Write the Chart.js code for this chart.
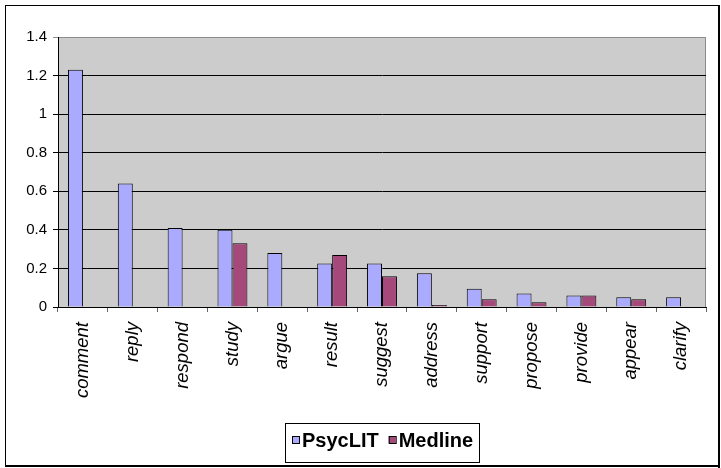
<!DOCTYPE html>
<html>
<head>
<meta charset="utf-8">
<script src="https://cdn.jsdelivr.net/npm/chart.js@4/dist/chart.umd.min.js"></script>
<style>
  html, body { margin: 0; padding: 0; background: #fff; }
  #wrap { width: 721px; height: 468px; position: relative; }
</style>
</head>
<body>
<div id="wrap"><canvas id="c" width="721" height="468"></canvas></div>
<script>
// Reporting verbs and their frequencies in the two databases
const verbs = ['comment', 'reply', 'respond', 'study', 'argue', 'result', 'suggest',
               'address', 'support', 'propose', 'provide', 'appear', 'clarify'];
const psyclit = [1.23, 0.64, 0.41, 0.40, 0.28, 0.225, 0.225, 0.175, 0.095, 0.07, 0.06, 0.05, 0.05];
const medline = [null, null, null, 0.33, null, 0.27, 0.16, 0.01, 0.04, 0.025, 0.06, 0.04, null];
const seriesNames = ['PsycLIT', 'Medline'];
const seriesColors = ['#AAAAFF', '#A4497A'];
const yTop = 1.4;
const yStep = 0.2;

const FONT = 'Arial, "Liberation Sans", sans-serif';

// Frame around the whole picture and the grey plot background
const framePlugin = {
  id: 'frame',
  beforeDraw(chart) {
    const ctx = chart.ctx;
    const a = chart.chartArea;
    ctx.save();
    ctx.fillStyle = '#fff';
    ctx.fillRect(0, 0, chart.width, chart.height);
    ctx.strokeStyle = '#000';
    ctx.lineWidth = 1;
    ctx.strokeRect(5.5, 5.5, 713, 460);
    ctx.fillStyle = '#000';
    ctx.fillRect(718, 5, 2, 463);
    ctx.fillRect(5, 465, 715, 2);
    ctx.fillStyle = '#CCCCCC';
    ctx.fillRect(a.left, a.top, a.right - a.left, a.bottom - a.top);
    ctx.strokeStyle = '#8c8c8c';
    ctx.beginPath();
    ctx.moveTo(a.left, a.top + 0.5);
    ctx.lineTo(a.right - 0.5, a.top + 0.5);
    ctx.lineTo(a.right - 0.5, a.bottom);
    ctx.stroke();
    ctx.restore();
  }
};

// Boxed legend below the axis labels
const boxLegendPlugin = {
  id: 'boxLegend',
  afterDraw(chart) {
    const ctx = chart.ctx;
    ctx.save();
    ctx.strokeStyle = '#000';
    ctx.lineWidth = 1;
    ctx.strokeRect(285.5, 423.5, 194, 39);
    ctx.font = 'bold 20px ' + FONT;
    ctx.textBaseline = 'middle';
    ctx.textAlign = 'left';
    let x = 292;
    const cy = 440;
    chart.data.datasets.forEach((ds) => {
      ctx.fillStyle = ds.backgroundColor;
      ctx.fillRect(x, cy - 4, 7, 7);
      ctx.strokeStyle = '#000';
      ctx.strokeRect(x + 0.5, cy - 3.5, 7, 7);
      ctx.fillStyle = '#000';
      ctx.fillText(ds.label, x + 10, cy + 1);
      x += 10 + ctx.measureText(ds.label).width + 10;
    });
    ctx.restore();
  }
};

new Chart(document.getElementById('c'), {
  type: 'bar',
  data: {
    labels: verbs,
    datasets: [
      { label: seriesNames[0], data: psyclit, backgroundColor: seriesColors[0],
        borderColor: '#000', borderWidth: 1, categoryPercentage: 0.6, barPercentage: 1.0 },
      { label: seriesNames[1], data: medline, backgroundColor: seriesColors[1],
        borderColor: '#000', borderWidth: 1, categoryPercentage: 0.6, barPercentage: 1.0 }
    ]
  },
  options: {
    responsive: false,
    animation: false,
    devicePixelRatio: 1,
    layout: { padding: { left: 0, top: 37, right: 15, bottom: 0 } },
    plugins: {
      legend: { display: false },
      tooltip: { enabled: false }
    },
    scales: {
      y: {
        min: 0,
        max: yTop,
        afterFit(s) { s.width = 58; },
        ticks: {
          stepSize: yStep,
          color: '#000',
          padding: 6,
          font: { family: FONT, size: 15 },
          callback: (v) => String(Math.round(v * 10) / 10)
        },
        grid: {
          color: (c) => (c.tick && Math.abs(c.tick.value - yTop) < 1e-6) ? '#8c8c8c' : '#000',
          lineWidth: 1,
          tickLength: 5
        },
        border: { color: '#000', width: 1 }
      },
      x: {
        afterFit(s) { s.height = 161; },
        ticks: {
          color: '#000',
          minRotation: 90,
          maxRotation: 90,
          autoSkip: false,
          padding: 10,
          font: { family: FONT, size: 18.5, style: 'italic' }
        },
        grid: {
          offset: true,
          drawOnChartArea: false,
          color: '#666',
          tickLength: 5
        },
        border: { color: '#000', width: 1 }
      }
    }
  },
  plugins: [framePlugin, boxLegendPlugin]
});
</script>
</body>
</html>
